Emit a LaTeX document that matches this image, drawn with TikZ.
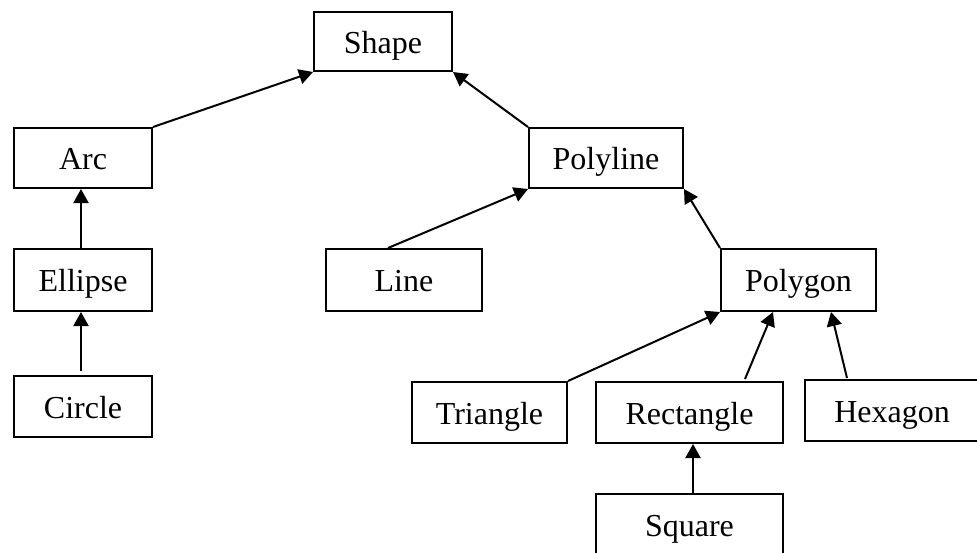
\documentclass[tikz,border=0pt]{standalone}
\usepackage{fontspec}
\setmainfont{Liberation Serif}
\usetikzlibrary{arrows.meta}
\begin{document}
\begin{tikzpicture}[x=1pt,y=-1pt,
  cls/.style={draw=black, line width=2pt, fill=white, inner sep=0pt,
    font=\fontsize{32}{36}\selectfont, text height=23pt, text depth=0pt},
  inh/.style={line width=2pt, -{Triangle[length=14pt,width=15pt]}}]
\clip (0,0) rectangle (977,552);
\fill[white] (0,0) rectangle (977,552);
\node[cls, minimum width=138pt, minimum height=59pt] (shape) at (383,41.5) {Shape};
\node[cls, minimum width=138pt, minimum height=60pt] (arc) at (83,158) {Arc};
\node[cls, minimum width=138pt, minimum height=62pt] (ellipse) at (83,280) {Ellipse};
\node[cls, minimum width=138pt, minimum height=61pt] (circle) at (83,406.5) {Circle};
\node[cls, minimum width=156pt, minimum height=62pt] (line) at (404,280) {Line};
\node[cls, minimum width=154pt, minimum height=60pt] (polyline) at (606,158) {Polyline};
\node[cls, minimum width=155pt, minimum height=62pt] (polygon) at (798.5,280) {Polygon};
\node[cls, minimum width=155pt, minimum height=61pt] (triangle) at (489.5,412.5) {Triangle};
\node[cls, minimum width=187pt, minimum height=61pt] (rectangle) at (689.5,412.5) {Rectangle};
\node[cls, minimum width=174pt, minimum height=61pt] (hexagon) at (892,410.5) {Hexagon};
\node[cls, minimum width=187pt, minimum height=61pt] (square) at (689.5,524.5) {Square};

\draw[inh] (arc.north east) -- (shape.south west);
\draw[inh] (polyline.north west) -- (shape.south east);
\draw[inh] ([xshift=-2pt]ellipse.north) -- ([xshift=-2pt]arc.south);
\draw[inh] ([xshift=-2pt,yshift=4pt]circle.north) -- ([xshift=-2pt]ellipse.south);
\draw[inh] ([xshift=-16pt]line.north) -- (polyline.south west);
\draw[inh] (polygon.north west) -- (polyline.south east);
\draw[inh] (triangle.north east) -- (polygon.south west);
\draw[inh] ([xshift=55.5pt,yshift=2pt]rectangle.north) -- ([xshift=-25.5pt]polygon.south);
\draw[inh] ([xshift=-45pt,yshift=1pt]hexagon.north) -- ([xshift=32.5pt]polygon.south);
\draw[inh] ([xshift=3.5pt]square.north) -- ([xshift=3.5pt]rectangle.south);
\end{tikzpicture}
\end{document}
